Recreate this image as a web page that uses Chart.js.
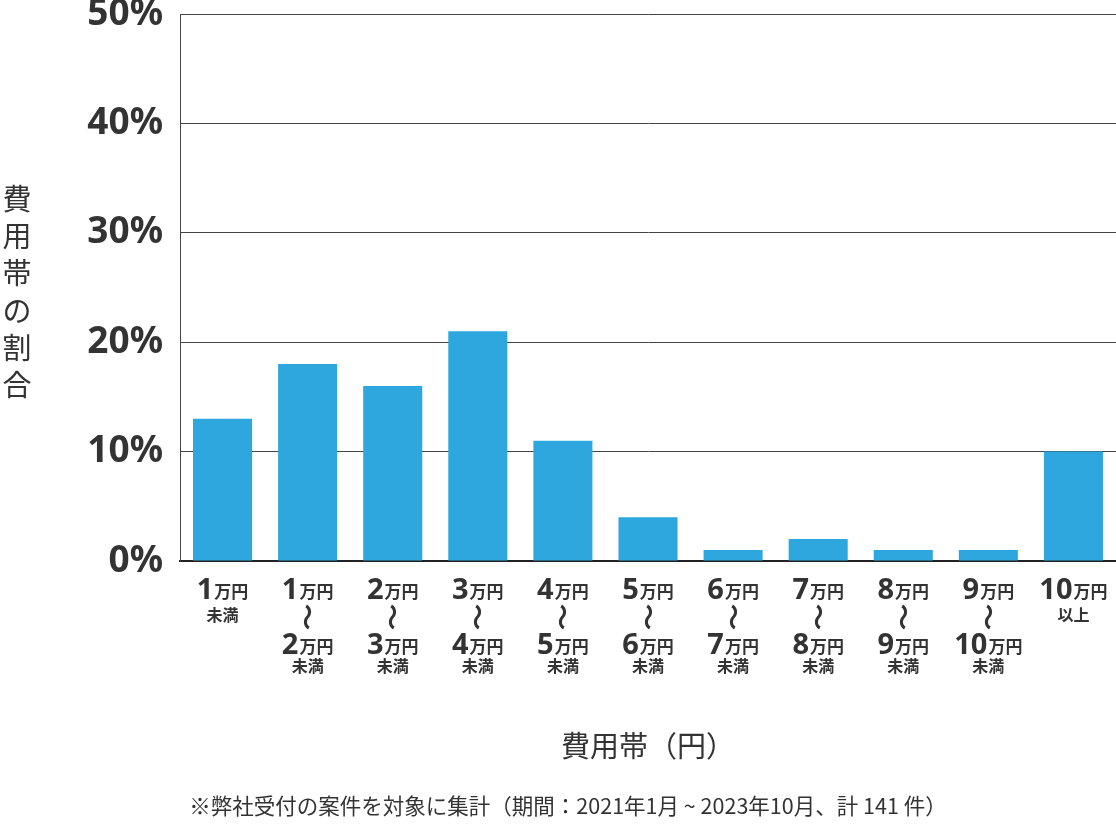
<!DOCTYPE html>
<html lang="ja">
<head>
<meta charset="utf-8">
<script src="https://cdn.jsdelivr.net/npm/chart.js@4"></script>
<style>
  html, body { margin: 0; padding: 0; background: #fff; }
  #wrap { width: 1116px; height: 828px; position: relative; }
</style>
</head>
<body>
<div id="wrap"><canvas id="chartHiyou"></canvas></div>
<script>
// データ
const categories = [
  "1万円未満", "1万円～2万円未満", "2万円～3万円未満", "3万円～4万円未満",
  "4万円～5万円未満", "5万円～6万円未満", "6万円～7万円未満", "7万円～8万円未満",
  "8万円～9万円未満", "9万円～10万円未満", "10万円以上"
];
const tickLines = [
  ["1万円", "未満"],
  ["1万円", "～", "2万円", "未満"],
  ["2万円", "～", "3万円", "未満"],
  ["3万円", "～", "4万円", "未満"],
  ["4万円", "～", "5万円", "未満"],
  ["5万円", "～", "6万円", "未満"],
  ["6万円", "～", "7万円", "未満"],
  ["7万円", "～", "8万円", "未満"],
  ["8万円", "～", "9万円", "未満"],
  ["9万円", "～", "10万円", "未満"],
  ["10万円", "以上"]
];
const shares = [13, 18, 16, 21, 11, 4, 1, 2, 1, 1, 10];
const yTicks = [0, 10, 20, 30, 40, 50];
const yTitle = "費用帯の割合";
const xTitle = "費用帯（円）";
const note = "※弊社受付の案件を対象に集計（期間：2021年1月 ~ 2023年10月、計 141 件）";

const TEXT = "#333";
const JP = '"Noto Sans CJK JP", "Noto Sans", sans-serif';

// 「1万円」みたいな行は数字だけ大きく描く
function drawAmount(ctx, str, cx, baseY) {
  const m = str.match(/^(\d+)(.*)$/);
  const num = m[1], unit = m[2];
  ctx.font = 'bold 29px "Noto Sans", sans-serif';
  const wn = ctx.measureText(num).width;
  ctx.font = "bold 17px " + JP;
  const wu = ctx.measureText(unit).width;
  const x0 = cx - (wn + wu + 1) / 2;
  ctx.textAlign = "left";
  ctx.textBaseline = "alphabetic";
  ctx.font = 'bold 29px "Noto Sans", sans-serif';
  ctx.fillText(num, x0, baseY);
  ctx.font = "bold 17px " + JP;
  ctx.fillText(unit, x0 + wn + 1, baseY - 1);
}

const labelPlugin = {
  id: "labelPlugin",
  afterDraw(chart) {
    const ctx = chart.ctx;
    const xs = chart.scales.x;
    ctx.save();
    ctx.fillStyle = TEXT;

    tickLines.forEach((lines, i) => {
      const cx = xs.getPixelForValue(i);
      drawAmount(ctx, lines[0], cx, 599);
      if (lines.length === 2) {
        ctx.font = "bold 16px " + JP;
        ctx.textAlign = "center";
        ctx.textBaseline = "middle";
        ctx.fillText(lines[1], cx, 615);
      } else {
        // 縦向きの波線（縦に少し伸ばす）
        ctx.save();
        ctx.translate(cx, 617);
        ctx.rotate(Math.PI / 2);
        ctx.scale(1.35, 1.25);
        ctx.font = "bold 20px " + JP;
        ctx.textAlign = "center";
        ctx.textBaseline = "middle";
        ctx.fillText(lines[1], 0, 0);
        ctx.restore();
        drawAmount(ctx, lines[2], cx, 654);
        ctx.font = "bold 16px " + JP;
        ctx.textAlign = "center";
        ctx.textBaseline = "middle";
        ctx.fillText(lines[3], cx, 666);
      }
    });

    // 縦軸タイトル（1文字ずつ縦に）
    ctx.font = "29px " + JP;
    ctx.textAlign = "center";
    ctx.textBaseline = "middle";
    [...yTitle].forEach((ch, k) => {
      ctx.fillText(ch, 17, 199 + k * 37.2);
    });

    // 横軸タイトル
    ctx.font = "29px " + JP;
    ctx.fillText(xTitle, 648, 746);

    // 注記
    ctx.font = "21.5px " + JP;
    ctx.fillText(note, 568, 806);
    ctx.restore();
  }
};

const chart = new Chart(document.getElementById("chartHiyou"), {
  type: "bar",
  data: {
    labels: categories,
    datasets: [{
      data: shares,
      backgroundColor: "#2ea7df",
      borderWidth: 0,
      categoryPercentage: 1,
      barPercentage: 0.694
    }]
  },
  options: {
    responsive: true,
    maintainAspectRatio: false,
    animation: false,
    layout: { padding: { top: 14, left: 0, right: 0, bottom: 0 } },
    plugins: {
      legend: { display: false },
      tooltip: { enabled: false }
    },
    scales: {
      x: {
        grid: { display: false },
        border: { color: "#222", width: 2 },
        ticks: { display: false },
        afterFit(scale) { scale.height = 267; }
      },
      y: {
        min: 0,
        max: 50,
        afterBuildTicks(scale) { scale.ticks = yTicks.map(v => ({ value: v })); },
        grid: { color: "#444", lineWidth: 1, drawTicks: false },
        border: { color: "#444", width: 1 },
        ticks: {
          padding: 17,
          color: TEXT,
          font: { family: '"Noto Sans", sans-serif', size: 37, weight: "bold", lineHeight: 1 },
          callback: v => v + "%"
        },
        afterFit(scale) {
          scale.width = 180;
          scale.paddingTop = 0;
          scale.paddingBottom = 0;
        }
      }
    }
  },
  plugins: [labelPlugin]
});
</script>
</body>
</html>
